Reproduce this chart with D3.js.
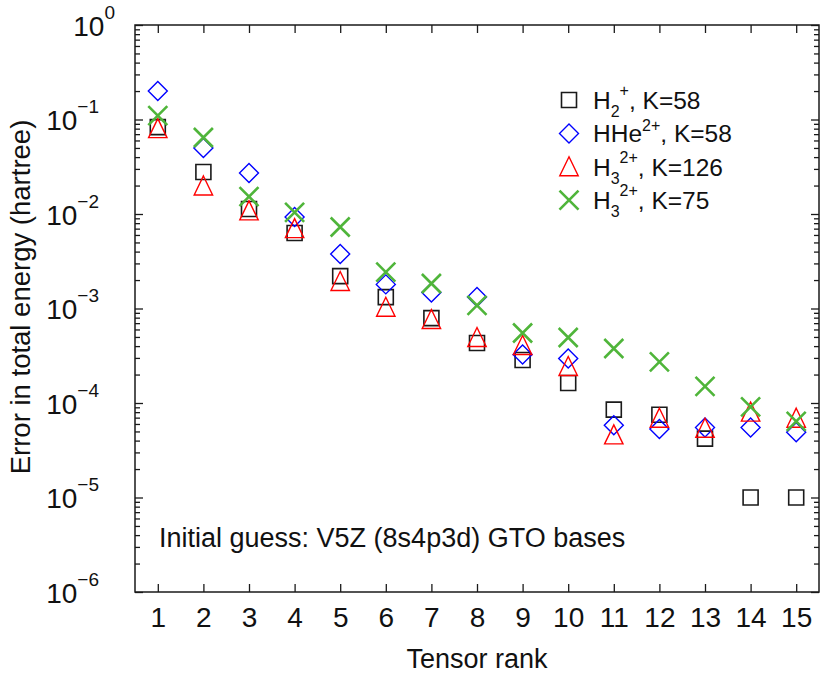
<!DOCTYPE html>
<html>
<head>
<meta charset="utf-8">
<script src="https://cdn.jsdelivr.net/npm/d3@7"></script>
<style>
    body { margin: 0; background: #fff; }
    svg { display: block; font-family: "Liberation Sans", Arial, sans-serif; }
    .axis .domain { display: none; }
    .axis line { stroke: #1a1a1a; stroke-width: 1.3; }
</style>
</head>
<body>
<svg id="chart" width="820" height="673"></svg>
<script>
/*global d3*/
var ranks = [1, 2, 3, 4, 5, 6, 7, 8, 9, 10, 11, 12, 13, 14, 15];
var h2Plus = [0.083, 0.0278, 0.0113, 0.0063, 0.0022, 0.00132, 0.00079, 0.000431, 0.000285, 0.000163, 8.5e-5, 7.5e-5, 4.2e-5, 1e-5, 1e-5];
var hhe2Plus = [0.20, 0.050, 0.0272, 0.0093, 0.00377, 0.0018, 0.00148, 0.00132, 0.000326, 0.000296, 5.8e-5, 5.3e-5, 5.5e-5, 5.5e-5, 4.9e-5];
var h3K126 = [0.08, 0.0198, 0.0108, 0.0070, 0.00193, 0.00103, 0.000765, 0.000493, 0.000406, 0.000243, 4.6e-5, 6.9e-5, 5.4e-5, 8.0e-5, 6.9e-5];
var h3K75 = [0.110, 0.0645, 0.0153, 0.0104, 0.00728, 0.00243, 0.00184, 0.00108, 0.00055, 0.000493, 0.000377, 0.000272, 0.000150, 9.1e-5, 6.4e-5];
var yExponents = [0, -1, -2, -3, -4, -5, -6];

(function (d3) {
    'use strict';

    var svg = d3.select('#chart'),
        left = 135, right = 819, top = 25, bottom = 592,
        x = d3.scaleLinear().domain([0.5, 15.5]).range([left, right]),
        y = d3.scaleLog().domain([1e-6, 1]).range([bottom, top]),
        majors = yExponents.map(function (e) { return Math.pow(10, e); }),
        minors = y.ticks().filter(function (v) {
            return majors.every(function (m) { return Math.abs(m - v) / m > 1e-6; });
        }),
        series = [
            { name: 'h2', values: h2Plus, shape: 'square', color: '#1a1a1a' },
            { name: 'hhe', values: hhe2Plus, shape: 'diamond', color: '#0000ff' },
            { name: 'h3a', values: h3K126, shape: 'triangle', color: '#ff0000' },
            { name: 'h3b', values: h3K75, shape: 'cross', color: '#4fb53a' }
        ];

    function shapePath(shape) {
        if (shape === 'square') {
            return 'M-7.5,-7.5H7.5V7.5H-7.5Z';
        }
        if (shape === 'diamond') {
            return 'M0,-9.5L9.5,0L0,9.5L-9.5,0Z';
        }
        if (shape === 'triangle') {
            return 'M0,-10L9.2,9H-9.2Z';
        }
        return 'M-9.5,-9.5L9.5,9.5M-9.5,9.5L9.5,-9.5';
    }

    function styleMark(sel, s) {
        sel.attr('d', shapePath(s.shape))
            .attr('fill', 'none')
            .attr('stroke', s.color)
            .attr('stroke-width', s.shape === 'cross' ? 2.6 : (s.shape === 'square' ? 1.6 : 1.4));
    }

    // x axes, ticks pointing inward
    svg.append('g').attr('class', 'axis')
        .attr('transform', 'translate(0,' + bottom + ')')
        .call(d3.axisBottom(x).tickValues(ranks).tickSize(-8).tickPadding(15))
        .selectAll('text')
        .attr('font-size', 28)
        .attr('font-family', '"Liberation Sans", Arial, sans-serif')
        .attr('fill', '#111');
    svg.append('g').attr('class', 'axis')
        .attr('transform', 'translate(0,' + top + ')')
        .call(d3.axisTop(x).tickValues(ranks).tickSize(-8).tickFormat(''));

    // y axes: minor and major ticks on both sides
    svg.append('g').attr('class', 'axis')
        .attr('transform', 'translate(' + left + ',0)')
        .call(d3.axisLeft(y).tickValues(minors).tickSize(-5).tickFormat(''));
    svg.append('g').attr('class', 'axis')
        .attr('transform', 'translate(' + right + ',0)')
        .call(d3.axisRight(y).tickValues(minors).tickSize(-5).tickFormat(''));
    svg.append('g').attr('class', 'axis')
        .attr('transform', 'translate(' + right + ',0)')
        .call(d3.axisRight(y).tickValues(majors).tickSize(-8).tickFormat(''));
    var yMajor = svg.append('g').attr('class', 'axis')
        .attr('transform', 'translate(' + left + ',0)')
        .call(d3.axisLeft(y).tickValues(majors).tickSize(-8).tickFormat(''));

    yMajor.selectAll('.tick').each(function (v) {
        var e = Math.round(Math.log10(v)),
            t = d3.select(this).select('text');
        t.attr('x', e === 0 ? -20 : -36)
            .attr('dy', null)
            .attr('y', 10)
            .attr('text-anchor', 'end')
            .attr('font-size', 28)
            .attr('font-family', '"Liberation Sans", Arial, sans-serif')
            .attr('fill', '#111');
        t.append('tspan').text('10');
        t.append('tspan').attr('dy', -17).attr('font-size', 19)
            .text(e === 0 ? '0' : '\u2212' + (-e));
    });

    // frame
    svg.append('rect')
        .attr('x', left).attr('y', top)
        .attr('width', right - left).attr('height', bottom - top)
        .attr('fill', 'none').attr('stroke', '#1a1a1a').attr('stroke-width', 1.5);

    // data marks
    series.forEach(function (s) {
        svg.append('g').selectAll('path')
            .data(s.values)
            .join('path')
            .attr('transform', function (d, i) {
                return 'translate(' + x(ranks[i]) + ',' + y(d) + ')';
            })
            .call(styleMark, s);
    });

    // legend
    var legend = svg.append('g').attr('font-size', 24.5).attr('fill', '#111'),
        labels = [
            [['H'], ['2', 'sub'], ['+', 'sup2'], [', K=58']],
            [['HHe'], ['2+', 'sup'], [', K=58']],
            [['H'], ['3', 'sub'], ['2+', 'sup2'], [', K=126']],
            [['H'], ['3', 'sub'], ['2+', 'sup2'], [', K=75']]
        ];
    series.forEach(function (s, i) {
        var rowY = 100 + i * 33.4,
            text;
        legend.append('path')
            .attr('transform', 'translate(569,' + rowY + ')')
            .call(styleMark, s);
        text = legend.append('text').attr('x', 593).attr('y', rowY + 9);
        labels[i].forEach(function (part, j) {
            var ts = text.append('tspan').text(part[0]),
                kind = part[1],
                prev = j > 0 ? labels[i][j - 1][1] : null;
            if (kind === 'sub') {
                ts.attr('dy', 8).attr('font-size', 16);
            } else if (kind === 'sup') {
                ts.attr('dy', -11).attr('font-size', 16);
            } else if (kind === 'sup2') {
                ts.attr('dy', -21).attr('font-size', 16);
            } else if (prev === 'sup2') {
                ts.attr('dy', 13);
            } else if (prev === 'sup') {
                ts.attr('dy', 11);
            }
        });
    });

    // annotation and axis titles
    svg.append('text')
        .attr('x', 159).attr('y', 547)
        .attr('font-size', 27).attr('fill', '#111')
        .text('Initial guess: V5Z (8s4p3d) GTO bases');
    svg.append('text')
        .attr('x', (left + right) / 2).attr('y', 668)
        .attr('text-anchor', 'middle')
        .attr('font-size', 27).attr('fill', '#111')
        .text('Tensor rank');
    svg.append('text')
        .attr('transform', 'translate(30,297) rotate(-90)')
        .attr('text-anchor', 'middle')
        .attr('font-size', 27.5).attr('fill', '#111')
        .text('Error in total energy (hartree)');
}(window.d3));
</script>
</body>
</html>
